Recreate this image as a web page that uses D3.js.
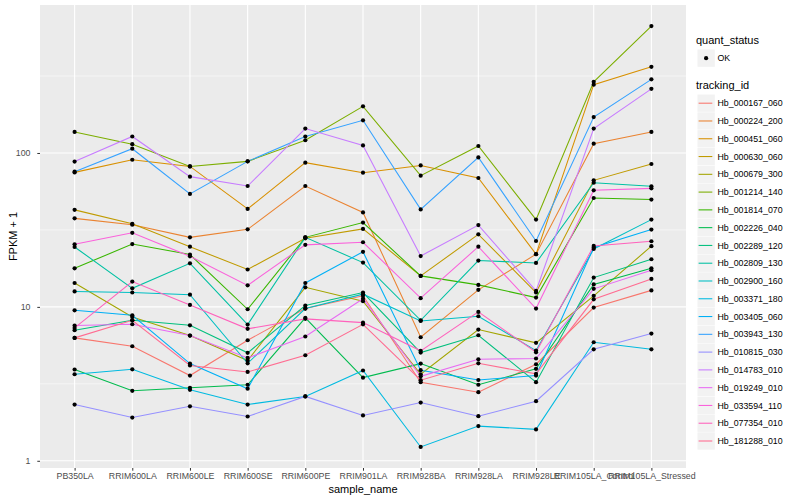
<!DOCTYPE html>
<html>
<head>
<meta charset="utf-8">
<script src="https://cdn.jsdelivr.net/npm/d3@7"></script>
<style>
body { margin: 0; background: #fff; }
text { font-family: "Liberation Sans", Arial, sans-serif; }
</style>
</head>
<body>
<div id="chart"></div>
<script>
// samples on the x axis
var samples = ["PB350LA", "RRIM600LA", "RRIM600LE", "RRIM600SE", "RRIM600PE", "RRIM901LA",
  "RRIM928BA", "RRIM928LA", "RRIM928LE", "RRIM105LA_Control", "RRIM105LA_Stressed"];

// genes (one line each)
var trackingIds = ["Hb_000167_060", "Hb_000224_200", "Hb_000451_060", "Hb_000630_060", "Hb_000679_300",
  "Hb_001214_140", "Hb_001814_070", "Hb_002226_040", "Hb_002289_120", "Hb_002809_130",
  "Hb_002900_160", "Hb_003371_180", "Hb_003405_060", "Hb_003943_130", "Hb_010815_030",
  "Hb_014783_010", "Hb_019249_010", "Hb_033594_110", "Hb_077354_010", "Hb_181288_010"];

// FPKM + 1, one row per tracking id, one value per sample
var fpkmPlusOne = [
  [6.29, 5.55, 3.58, 6.07, 9.75, 11.8, 3.24, 2.79, 4.24, 9.9, 12.8],
  [37.6, 34.2, 28.3, 31.9, 61, 41.1, 6.35, 12.9, 22, 115, 137],
  [74.8, 90.4, 81.8, 43.3, 86.5, 74.5, 83, 68.8, 22, 278, 363],
  [42.7, 34.7, 24.6, 17.5, 27.9, 32.1, 15.9, 29.6, 12.4, 66.4, 84.8],
  [14.3, 8.61, 6.51, 4.48, 13.4, 10.9, 3.65, 7.12, 5.84, 11.8, 24.8],
  [137, 114, 81.8, 88.2, 121, 201, 71.2, 111, 36.9, 290, 668],
  [17.8, 25.6, 21.9, 9.65, 28.3, 35.3, 15.9, 13.9, 11.5, 51, 49.8],
  [3.92, 2.85, 2.98, 3.12, 8.49, 3.47, 4.28, 3.12, 3.96, 14, 17.8],
  [7.05, 8.18, 7.59, 5.03, 10.2, 12.4, 5.05, 6.54, 3.24, 15.5, 20.4],
  [24.5, 13.2, 19.2, 7.67, 28.3, 19.4, 8.18, 20, 19.3, 64.1, 60.8],
  [12.6, 12.4, 12.0, 4.3, 9.75, 12.1, 8.1, 8.69, 5.2, 23.8, 36.9],
  [3.65, 3.93, 2.89, 2.32, 2.62, 3.86, 1.23, 1.68, 1.60, 5.89, 5.3],
  [9.5, 8.82, 4.28, 2.94, 14.3, 22.8, 3.88, 3.35, 3.58, 24.3, 31.8],
  [75.6, 106.6, 54.2, 88.2, 128, 163, 43, 93.6, 26.8, 171, 301],
  [2.32, 1.91, 2.26, 1.94, 2.62, 1.97, 2.39, 1.95, 2.44, 5.3, 6.71],
  [88, 128, 70.2, 61, 144, 112, 21.4, 34, 12.7, 144, 261],
  [7.56, 7.71, 6.51, 4.66, 6.42, 11.3, 3.54, 4.57, 4.62, 13.1, 17.3],
  [25.5, 30.3, 21.3, 13.8, 25.3, 26.3, 11.4, 24.6, 9.75, 57.2, 58.9],
  [7.3, 14.6, 10.3, 7.2, 8.36, 7.9, 5.18, 9.28, 5.07, 24.9, 26.7],
  [6.29, 8.18, 4.16, 3.78, 4.85, 7.7, 3.34, 4.3, 3.67, 11.2, 15.2]
];

var quantStatus = ["OK"];

// y axis breaks
var yBreaks = [1, 10, 100];

// ggplot hue palette for 20 levels
var hueColors = ["#F8766D", "#EA8331", "#D89000", "#C09B00", "#A3A500", "#7CAE00", "#39B600", "#00BB4E",
  "#00BF7D", "#00C1A3", "#00BFC4", "#00BAE0", "#00B0F6", "#35A2FF", "#9590FF", "#C77CFF",
  "#E76BF3", "#FA62DB", "#FF62BC", "#FF6C91"];

// set the dimensions and margins of the graph
var margin = {top: 5, right: 114, bottom: 32, left: 40},
  width = 800 - margin.left - margin.right,
  height = 500 - margin.top - margin.bottom;

var svg = d3.select("#chart")
  .append("svg")
  .attr("width", 800)
  .attr("height", 500)
  .style("display", "block");

var g = svg.append("g")
  .attr("transform", "translate(" + margin.left + "," + margin.top + ")");

// scales
var x = d3.scalePoint()
  .domain(samples)
  .range([0, width])
  .padding(0.6);

// log range with 5% expansion like ggplot
var logExt = d3.extent(d3.merge(fpkmPlusOne)).map(Math.log10);
var pad = (logExt[1] - logExt[0]) * 0.05;
var y = d3.scaleLog()
  .domain([Math.pow(10, logExt[0] - pad), Math.pow(10, logExt[1] + pad)])
  .range([height, 0]);

var color = d3.scaleOrdinal()
  .domain(trackingIds)
  .range(hueColors);

// panel background
g.append("rect")
  .attr("width", width)
  .attr("height", height)
  .attr("fill", "#EBEBEB");

// minor grid halfway between the breaks (log space)
var minorBreaks = d3.pairs([0.1].concat(yBreaks, [1000]))
  .map(function(p) { return Math.sqrt(p[0] * p[1]); })
  .filter(function(v) { return v > y.domain()[0] && v < y.domain()[1]; });

g.selectAll(".minor")
  .data(minorBreaks)
  .enter()
  .append("line")
  .attr("x1", 0).attr("x2", width)
  .attr("y1", function(d) { return y(d); })
  .attr("y2", function(d) { return y(d); })
  .attr("stroke", "#fff")
  .attr("stroke-width", 0.55);

g.selectAll(".hmajor")
  .data(yBreaks)
  .enter()
  .append("line")
  .attr("x1", 0).attr("x2", width)
  .attr("y1", function(d) { return y(d); })
  .attr("y2", function(d) { return y(d); })
  .attr("stroke", "#fff")
  .attr("stroke-width", 1.1);

g.selectAll(".vmajor")
  .data(samples)
  .enter()
  .append("line")
  .attr("y1", 0).attr("y2", height)
  .attr("x1", function(d) { return x(d); })
  .attr("x2", function(d) { return x(d); })
  .attr("stroke", "#fff")
  .attr("stroke-width", 1.1);

// lines
var line = d3.line()
  .x(function(d, i) { return x(samples[i]); })
  .y(function(d) { return y(d); });

g.selectAll(".geneLine")
  .data(fpkmPlusOne)
  .enter()
  .append("path")
  .attr("d", line)
  .attr("fill", "none")
  .attr("stroke", function(d, i) { return color(trackingIds[i]); })
  .attr("stroke-width", 1.07);

// points on top
fpkmPlusOne.forEach(function(row) {
  g.selectAll(null)
    .data(row)
    .enter()
    .append("circle")
    .attr("cx", function(d, i) { return x(samples[i]); })
    .attr("cy", function(d) { return y(d); })
    .attr("r", 2.1)
    .attr("fill", "#000");
});

// axes
var yAxis = g.append("g")
  .call(d3.axisLeft(y).tickValues(yBreaks).tickFormat(d3.format("d")).tickSize(2.7).tickPadding(6.8));
var xAxis = g.append("g")
  .attr("transform", "translate(0," + height + ")")
  .call(d3.axisBottom(x).tickSize(2.7).tickPadding(2));

[xAxis, yAxis].forEach(function(a) {
  a.select(".domain").remove();
  a.selectAll(".tick line").attr("stroke", "#333333");
  a.selectAll(".tick text")
    .attr("fill", "#4D4D4D")
    .attr("font-size", 8.8)
    .attr("font-family", "Liberation Sans, Arial, sans-serif");
});

// axis titles
g.append("text")
  .attr("x", width / 2)
  .attr("y", height + 24.5)
  .attr("text-anchor", "middle")
  .attr("font-size", 11)
  .text("sample_name");

svg.append("text")
  .attr("transform", "translate(16.5," + (margin.top + height / 2) + ") rotate(-90)")
  .attr("text-anchor", "middle")
  .attr("font-size", 11)
  .text("FPKM + 1");

// legends
var legend = svg.append("g").attr("transform", "translate(696,0)");

legend.append("text")
  .attr("x", 0).attr("y", 44)
  .attr("font-size", 11)
  .text("quant_status");

var shapeKey = legend.selectAll(".shapeKey")
  .data(quantStatus)
  .enter()
  .append("g")
  .attr("transform", "translate(0,49.5)");
shapeKey.append("rect")
  .attr("x", 1.5).attr("width", 17.3).attr("height", 17.3)
  .attr("fill", "#F2F2F2");
shapeKey.append("circle")
  .attr("cx", 10.1).attr("cy", 8.65).attr("r", 2.1)
  .attr("fill", "#000");
shapeKey.append("text")
  .attr("x", 21.5).attr("y", 8.65)
  .attr("dy", "0.35em")
  .attr("font-size", 8.8)
  .text(function(d) { return d; });

legend.append("text")
  .attr("x", 0).attr("y", 89)
  .attr("font-size", 11)
  .text("tracking_id");

var keyY = d3.scalePoint()
  .domain(trackingIds)
  .range([103.2, 441]);

var keys = legend.selectAll(".idKey")
  .data(trackingIds)
  .enter()
  .append("g")
  .attr("transform", function(d) { return "translate(0," + keyY(d) + ")"; });
keys.append("rect")
  .attr("x", 1.5).attr("y", -8.65)
  .attr("width", 17.3).attr("height", 17.3)
  .attr("fill", "#F2F2F2");
keys.append("line")
  .attr("x1", 2.6).attr("x2", 16.3)
  .attr("stroke", function(d) { return color(d); })
  .attr("stroke-width", 1.07);
keys.append("text")
  .attr("x", 21.5)
  .attr("dy", "0.35em")
  .attr("font-size", 8.8)
  .text(function(d) { return d; });
</script>
</body>
</html>
